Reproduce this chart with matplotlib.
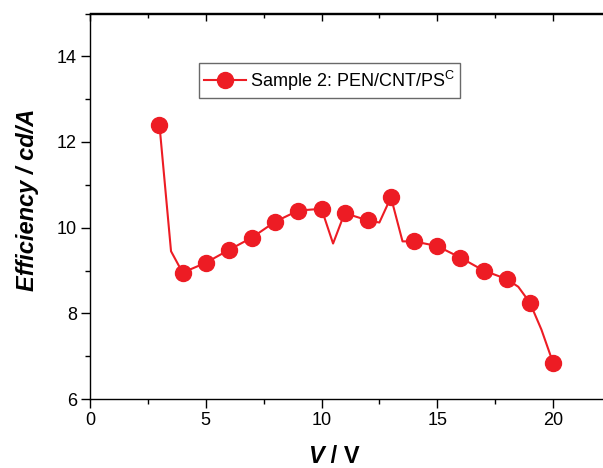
import matplotlib
matplotlib.use("Agg")
import matplotlib.pyplot as plt
from matplotlib.ticker import MultipleLocator, AutoMinorLocator

# Data (extra half-volt points are where the line kinks)
voltage = [3, 3.5, 4, 5, 6, 7, 8, 9, 10, 10.5, 11, 12, 12.5, 13, 13.5, 14,
           15, 16, 17, 18, 18.5, 19, 19.5, 20]
efficiency = [12.40, 9.45, 8.95, 9.18, 9.48, 9.77, 10.14, 10.40, 10.44, 9.63,
              10.34, 10.17, 10.12, 10.71, 9.68, 9.68, 9.57, 9.30, 9.00, 8.80,
              8.62, 8.25, 7.62, 6.85]
marker_idx = [i for i, v in enumerate(voltage) if float(v).is_integer()]
series_label = r"Sample 2: PEN/CNT/PS$^{\mathrm{C}}$"

plt.rcParams["font.family"] = ["Liberation Sans", "DejaVu Sans"]
plt.rcParams["mathtext.fontset"] = "custom"
plt.rcParams["mathtext.rm"] = "Liberation Sans"
plt.rcParams["mathtext.it"] = "Liberation Sans:italic"

RED = "#ED1C24"

fig = plt.figure(figsize=(6.03, 4.68), dpi=100)
ax = fig.add_axes([90 / 603, 1 - 399 / 468, 1 - 90 / 603, (399 - 13.5) / 468])

ax.plot(voltage, efficiency, color=RED, lw=1.5, marker="o", ms=11.5,
        markevery=marker_idx, mfc=RED, mec=RED, label=series_label)

ax.set_xlim(0, (603 - 90) / 23.15)
ax.set_ylim(6, 15)
ax.xaxis.set_major_locator(MultipleLocator(5))
ax.xaxis.set_minor_locator(AutoMinorLocator(2))
ax.yaxis.set_major_locator(MultipleLocator(2))
ax.yaxis.set_minor_locator(AutoMinorLocator(2))

for s in ax.spines.values():
    s.set_linewidth(1.0)
ax.spines["right"].set_visible(False)
ax.tick_params(which="major", direction="out", length=6.5, width=1.0,
               labelsize=13, pad=3)
ax.tick_params(which="minor", direction="out", length=3.5, width=1.0)

# top axis: inward ticks, no labels
top = ax.secondary_xaxis("top")
top.xaxis.set_major_locator(MultipleLocator(5))
top.xaxis.set_minor_locator(AutoMinorLocator(2))
top.tick_params(which="major", direction="in", length=6, width=1.0, labeltop=False)
top.tick_params(which="minor", direction="in", length=3.5, width=1.0)
top.spines["top"].set_linewidth(1.0)

# x label: italic variable name, upright unit
xl = fig.text(324 / 603, 5 / 468, "V", fontsize=17, fontweight="bold",
              style="italic", ha="right", va="baseline")
ax.annotate(" / V", xy=(1, 0), xycoords=xl, va="bottom", ha="left",
            fontsize=17, fontweight="bold")

fig.text(28 / 603, 1 - 200 / 468, "Efficiency / cd/A", fontsize=17,
         fontweight="bold", style="italic", rotation=90,
         ha="center", va="center")

leg = ax.legend(loc="upper left", bbox_to_anchor=(199 / 603, 1 - 63 / 468),
                bbox_transform=fig.transFigure, fontsize=13, frameon=True,
                fancybox=False, edgecolor="#444444", handlelength=2.3,
                handletextpad=0.2, borderpad=0.3, borderaxespad=0)
leg.get_frame().set_linewidth(1.0)

fig.savefig("out.png", dpi=100)
